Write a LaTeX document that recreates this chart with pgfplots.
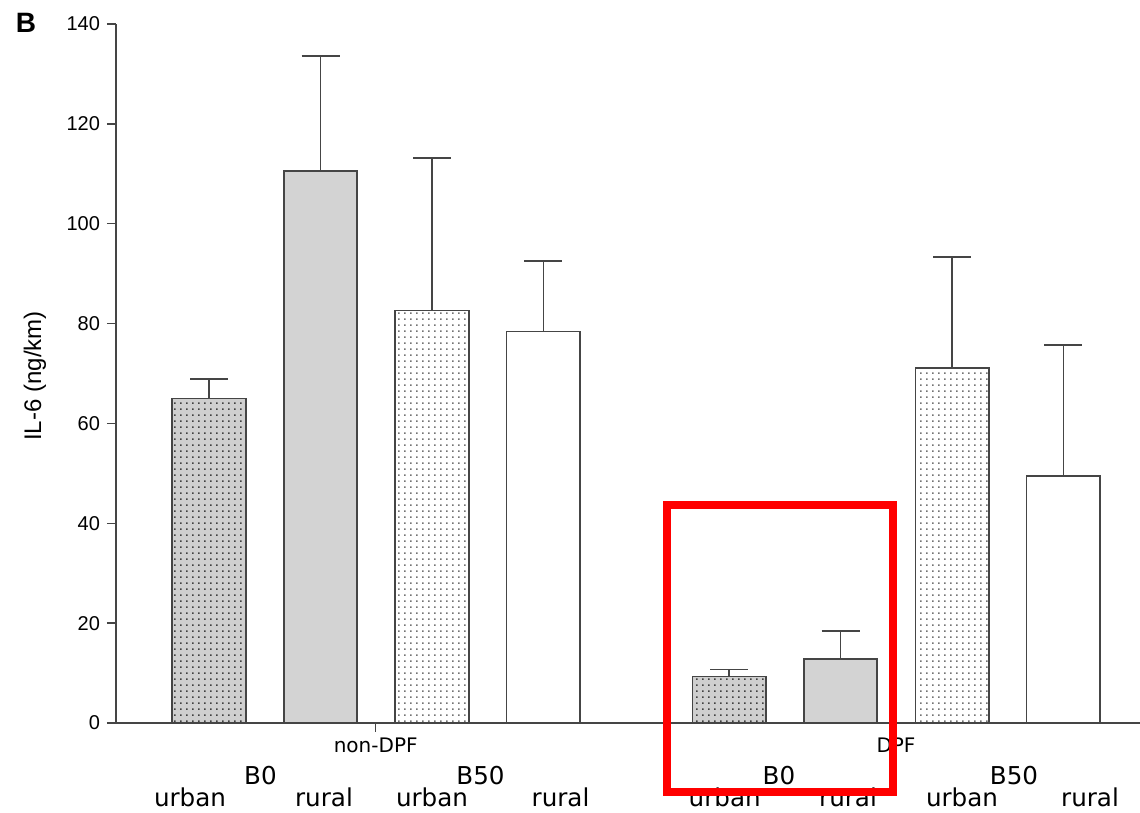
\documentclass[border=0pt]{standalone}
\usepackage{fontspec}
\setmainfont{Liberation Sans}
\newfontfamily\dejavu{DejaVu Sans}
\usepackage{pgfplots}
\pgfplotsset{compat=1.18}
\usetikzlibrary{patterns.meta}

\tikzdeclarepattern{
  name=mydots,
  type=uncolored,
  bottom left={(0pt,0pt)},
  top right={(3.2pt,3.2pt)},
  tile size={(3.2pt,3.2pt)},
  code={\pgfpathrectangle{\pgfpoint{1.1pt}{1.1pt}}{\pgfpoint{0.9pt}{0.9pt}}\pgfusepath{fill}}
}

\definecolor{edge}{HTML}{454545}
\definecolor{barg}{HTML}{D3D3D3}
\definecolor{barga}{HTML}{CFCFCF}

\begin{document}
\begin{tikzpicture}
\path[use as bounding box] (0,0) rectangle (570pt,406.5pt);
\begin{axis}[
  at={(58pt,45pt)}, anchor=south west,
  scale only axis, width=512pt, height=349.5pt,
  xmin=0, xmax=1024, ymin=0, ymax=140,
  axis lines=left, axis line style={-, draw=edge, line width=0.85pt},
  ytick={0,20,...,140}, xtick={259.7,780}, xticklabels={\empty,\empty},
  tick align=outside, major tick length=4.5pt,
  tick style={draw=edge, line width=0.65pt},
  /pgf/number format/assume math mode=true,
  yticklabel style={font=\fontsize{10}{12}\selectfont},
  clip=false,
  bar width=73.5,
  error bars/error bar style={draw=edge, line width=0.75pt},
  error bars/error mark options={draw=edge, line width=0.9pt, mark size=9.5pt, rotate=90},
]
% B0 urban: grey with dark dots
\addplot[ybar, bar shift=0pt, draw=edge, line width=0.9pt, fill=barga,
  postaction={pattern={mydots}, pattern color=black!75},
  error bars/.cd, y dir=plus, y explicit]
  coordinates {(93,65.0) +- (0,3.9) (613.2,9.3) +- (0,1.4)};
% B0 rural: solid grey
\addplot[ybar, bar shift=0pt, draw=edge, line width=0.9pt, fill=barg,
  error bars/.cd, y dir=plus, y explicit]
  coordinates {(204.5,110.6) +- (0,23.0) (724.5,12.75) +- (0,5.65)};
% B50 urban: white with light dots
\addplot[ybar, bar shift=0pt, draw=edge, line width=0.9pt, fill=white,
  postaction={pattern={mydots}, pattern color=black!55},
  error bars/.cd, y dir=plus, y explicit]
  coordinates {(316,82.6) +- (0,30.6) (836.2,71.1) +- (0,22.2)};
% B50 rural: white
\addplot[ybar, bar shift=0pt, draw=edge, line width=0.9pt, fill=white,
  error bars/.cd, y dir=plus, y explicit]
  coordinates {(427.3,78.4) +- (0,14.1) (947.3,49.5) +- (0,26.2)};

\node[font=\dejavu\fontsize{10}{12}\selectfont, anchor=base] at (axis cs:259.7,-5.81) {non-DPF};
\node[font=\dejavu\fontsize{10}{12}\selectfont, anchor=base] at (axis cs:780,-5.81) {DPF};

\begin{scope}[every node/.style={font=\dejavu\fontsize{12.3}{14}\selectfont, anchor=base, inner sep=0pt}]
\node at (axis cs:74,-16.82) {urban};
\node at (axis cs:144.5,-12.22) {B0};
\node at (axis cs:208,-16.82) {rural};
\node at (axis cs:316,-16.82) {urban};
\node at (axis cs:364.5,-12.22) {B50};
\node at (axis cs:444.5,-16.82) {rural};
\node at (axis cs:608.7,-16.82) {urban};
\node at (axis cs:663,-12.22) {B0};
\node at (axis cs:732,-16.82) {rural};
\node at (axis cs:846,-16.82) {urban};
\node at (axis cs:898,-12.22) {B50};
\node at (axis cs:974,-16.82) {rural};
\end{scope}

\node[rotate=90, font=\fontsize{12}{14}\selectfont] at (axis cs:-81,69.5) {IL-6 (ng/km)};
\node[font=\bfseries\fontsize{14}{16}\selectfont, anchor=base] at (axis cs:-90,138.2) {B};

\draw[red, line width=4pt] (axis cs:550.7,43.76) rectangle (axis cs:777.3,-13.72);
\end{axis}
\end{tikzpicture}
\end{document}
